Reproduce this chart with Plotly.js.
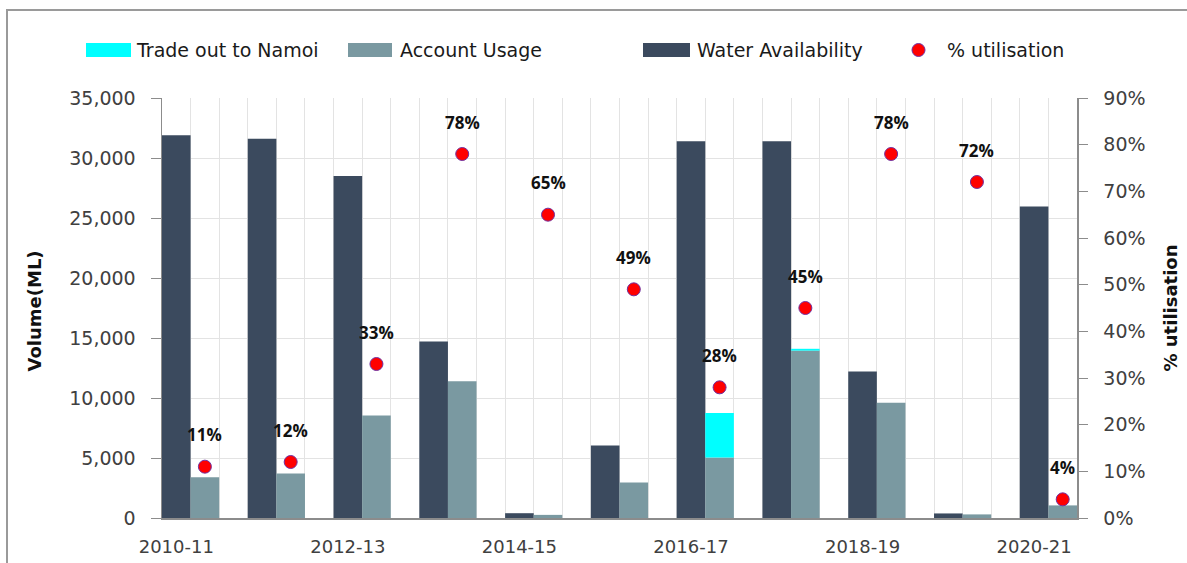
<!DOCTYPE html>
<html>
<head>
<meta charset="utf-8">
<script src="https://cdn.plot.ly/plotly-3.0.1.min.js"></script>
<style>
  html, body { margin: 0; padding: 0; background: #ffffff; }
  #chart { width: 1187px; height: 563px; }
</style>
</head>
<body>
<div id="chart"></div>
<script>
// ---- data ----
const categories = ['2010-11','2011-12','2012-13','2013-14','2014-15','2015-16','2016-17','2017-18','2018-19','2019-20','2020-21'];
const waterAvailability = [31900, 31600, 28500, 14700, 400, 6050, 31400, 31400, 12200, 380, 25950];
const accountUsage      = [3400, 3700, 8550, 11400, 260, 2950, 5050, 13950, 9600, 300, 1050];
const tradeOutToNamoi   = [0, 0, 0, 0, 0, 0, 3700, 150, 0, 0, 0];
const utilisationPct    = [11, 12, 33, 78, 65, 49, 28, 45, 78, 72, 4];
const legendLabels = ['Trade out to Namoi', 'Account Usage', 'Water Availability', '% utilisation'];

// ---- layout geometry ----
const W = 1187, H = 563;
const M = {l: 162, r: 110, t: 98, b: 45};
const PW = W - M.l - M.r, PH = H - M.t - M.b;
const px = v => (v - M.l) / PW;          // pixel x -> paper
const py = v => (H - M.b - v) / PH;      // pixel y -> paper

const idx = categories.map((_, i) => i);
const C_DARK = '#3b4a5e', C_GREY = '#7a99a1', C_CYAN = '#00ffff';
const C_AXIS = '#8c8c8c', C_GRID = '#e3e3e3', C_TICK = '#404040';
const TICKFONT = {family: 'DejaVu Sans', size: 18, color: C_TICK};
const YTICKFONT = {family: 'DejaVu Sans', size: 19, color: C_TICK};

const traces = [
  {type: 'bar', name: legendLabels[2], x: idx, y: waterAvailability, offset: -1/3, width: 1/3,
   marker: {color: C_DARK}, showlegend: false, hoverinfo: 'skip'},
  {type: 'bar', name: legendLabels[1], x: idx, y: accountUsage, offset: 0, width: 1/3,
   marker: {color: C_GREY}, showlegend: false, hoverinfo: 'skip'},
  {type: 'bar', name: legendLabels[0], x: idx, y: tradeOutToNamoi, base: accountUsage, offset: 0, width: 1/3,
   marker: {color: C_CYAN}, showlegend: false, hoverinfo: 'skip'},
  {type: 'scatter', mode: 'markers', name: legendLabels[3], x: idx.map(i => i + 1/6),
   y: utilisationPct.map(p => p / 100), yaxis: 'y2',
   marker: {color: '#ff0000', size: 13, line: {color: '#7030a0', width: 1}},
   showlegend: false, hoverinfo: 'skip', cliponaxis: false}
];

const annotations = utilisationPct.map((p, i) => ({
  x: i + 1/6, y: p / 100, xref: 'x', yref: 'y2', text: p + '%', showarrow: false,
  yshift: 32, font: {family: 'Open Sans', size: 17, color: '#111111', weight: 'bold'}
}));

// axis titles
annotations.push({xref: 'paper', yref: 'paper', x: px(21), y: py(311), text: '<b>Volume(ML)</b>',
  textangle: -90, showarrow: false, font: {family: 'DejaVu Sans', size: 18, color: '#111'}});
annotations.push({xref: 'paper', yref: 'paper', x: px(1182), y: py(308), text: '<b>% utilisation</b>',
  textangle: -90, showarrow: false, font: {family: 'DejaVu Sans', size: 18, color: '#111'}});

// manual legend
const legendText = [[134, legendLabels[0]], [398, legendLabels[1]], [695, legendLabels[2]], [945, legendLabels[3]]];
legendText.forEach(([x0, t]) => annotations.push({xref: 'paper', yref: 'paper', x: px(x0), y: py(50),
  xanchor: 'left', yanchor: 'middle', text: t, showarrow: false,
  font: {family: 'DejaVu Sans', size: 19, color: '#1a1a1a'}}));

const shapes = [
  // outer frame
  {type: 'rect', xref: 'paper', yref: 'paper', x0: px(7), x1: px(1200), y0: py(610), y1: py(10),
   line: {color: '#9a9a9a', width: 2}, fillcolor: 'rgba(0,0,0,0)', layer: 'below'},
  // legend swatches
  {type: 'rect', xref: 'paper', yref: 'paper', x0: px(86), x1: px(131), y0: py(57), y1: py(43), line: {width: 0}, fillcolor: C_CYAN},
  {type: 'rect', xref: 'paper', yref: 'paper', x0: px(348), x1: px(392), y0: py(57), y1: py(43), line: {width: 0}, fillcolor: C_GREY},
  {type: 'rect', xref: 'paper', yref: 'paper', x0: px(643), x1: px(690), y0: py(57), y1: py(43), line: {width: 0}, fillcolor: C_DARK},
  {type: 'circle', xref: 'paper', yref: 'paper', x0: px(912), x1: px(925), y0: py(56.5), y1: py(43.5),
   line: {color: '#7030a0', width: 1}, fillcolor: '#ff0000'}
];

const evenIdx = idx.filter(i => i % 2 === 0);

const layout = {
  width: W, height: H,
  margin: M,
  paper_bgcolor: '#ffffff', plot_bgcolor: '#ffffff',
  barmode: 'overlay',
  showlegend: false,
  xaxis: {
    range: [-1/3, categories.length - 1 + 1/3],
    tickmode: 'array',
    tickvals: evenIdx.map(i => i - 1/6),
    ticktext: evenIdx.map(i => categories[i]),
    showgrid: false, zeroline: false,
    showline: true, linecolor: C_AXIS, linewidth: 1.5,
    ticks: '', tickfont: TICKFONT, ticklabelstandoff: 12,
    minor: {tickmode: 'linear', tick0: 0, dtick: 1/3, showgrid: true, gridcolor: C_GRID, gridwidth: 1, ticks: ''}
  },
  yaxis: {
    range: [0, 35000], dtick: 5000, tick0: 0, tickformat: ',d',
    showgrid: true, gridcolor: C_GRID, gridwidth: 1, zeroline: false,
    showline: true, linecolor: C_AXIS, linewidth: 1.5,
    ticks: 'outside', ticklen: 10, tickcolor: C_AXIS, tickwidth: 1,
    tickfont: YTICKFONT, ticklabelstandoff: 11
  },
  yaxis2: {
    overlaying: 'y', side: 'right',
    range: [0, 0.9], dtick: 0.1, tick0: 0, tickformat: '.0%',
    showgrid: false, zeroline: false,
    showline: true, linecolor: C_AXIS, linewidth: 1.5,
    ticks: 'outside', ticklen: 9, tickcolor: C_AXIS, tickwidth: 1,
    tickfont: YTICKFONT, ticklabelstandoff: 12
  },
  annotations: annotations,
  shapes: shapes
};

Plotly.newPlot('chart', traces, layout, {staticPlot: true, displayModeBar: false});
</script>
</body>
</html>
